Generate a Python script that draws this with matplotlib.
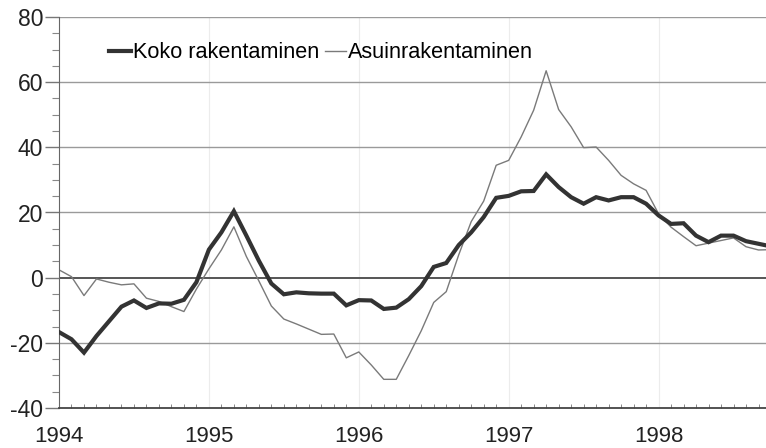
"""Koko rakentaminen vs. asuinrakentaminen, monthly change (%), 1994-1998."""

import matplotlib
matplotlib.use("Agg")
import matplotlib.pyplot as plt
from matplotlib.ticker import FixedLocator, MultipleLocator

plt.rcParams["font.family"] = ["Liberation Sans Narrow", "Liberation Sans", "DejaVu Sans"]
plt.rcParams["axes.unicode_minus"] = False

# monthly values, Jan 1994 onwards
koko = [
    -16.7, -18.9, -23.0, -17.9, -13.4, -8.9, -7.0, -9.3, -7.9, -8.0, -6.8, -1.4,
    8.6, 13.9, 20.4, 12.9, 5.2, -1.8, -5.1, -4.5, -4.8, -4.9, -4.9, -8.5,
    -6.9, -7.0, -9.6, -9.2, -6.6, -2.6, 3.3, 4.5, 10.0, 13.9, 18.6, 24.5,
    25.1, 26.5, 26.6, 31.7, 27.8, 24.7, 22.7, 24.7, 23.7, 24.7, 24.7, 22.7,
    19.1, 16.5, 16.7, 12.9, 10.9, 12.9, 12.9, 11.2, 10.4, 9.6,
]
asuin = [
    2.4, 0.3, -5.5, -0.4, -1.4, -2.2, -1.9, -6.3, -7.3, -8.9, -10.4, -3.5,
    2.7, 8.5, 15.6, 6.5, -1.0, -8.7, -12.7, -14.2, -15.8, -17.4, -17.3, -24.6,
    -22.8, -26.8, -31.2, -31.2, -23.9, -16.3, -7.6, -4.3, 7.0, 17.2, 23.5, 34.5,
    36.0, 43.2, 51.4, 63.5, 51.6, 46.3, 39.9, 40.1, 36.0, 31.4, 28.8, 26.8,
    19.6, 15.5, 12.6, 9.8, 10.6, 11.4, 12.2, 9.5, 8.5, 8.6,
]
years = ["1994", "1995", "1996", "1997", "1998"]
labels = ["Koko rakentaminen", "Asuinrakentaminen"]

months = list(range(len(koko)))

fig = plt.figure(figsize=(7.66, 4.48), dpi=100)
ax = fig.add_axes([59 / 766, 1 - 408 / 448, 1 - 59 / 766, (408 - 17) / 448])

# grid
for v in (-20, 20, 40, 60, 80):
    ax.axhline(v, color="#9a9a9a", lw=1.0, zorder=1)
ax.axhline(0, color="#555555", lw=1.4, zorder=1)
for m in (12, 24, 36, 48):
    ax.axvline(m, color="#ececec", lw=0.8, zorder=0)

ax.plot(months, koko, color="#333333", lw=3.0, label=labels[0], zorder=3,
        solid_joinstyle="miter")
ax.plot(months, asuin, color="#7a7a7a", lw=1.0, label=labels[1], zorder=2)

ax.set_xlim(0, 56.6)
ax.set_ylim(-40, 80)

ax.yaxis.set_major_locator(MultipleLocator(20))
ax.yaxis.set_minor_locator(MultipleLocator(5))
ax.xaxis.set_major_locator(FixedLocator([0, 12, 24, 36, 48]))
ax.xaxis.set_minor_locator(MultipleLocator(1))
ax.set_xticklabels(years)

ax.tick_params(axis="y", which="major", length=10, width=1.0, color="#777777",
               pad=1.5, labelsize=16.5, labelcolor="#222222")
ax.tick_params(axis="y", which="minor", length=5, width=0.8, color="#888888")
ax.tick_params(axis="x", which="major", length=0, pad=13, labelsize=16,
               labelcolor="#222222")
ax.tick_params(axis="x", which="minor", direction="in", length=3, width=0.7,
               color="#888888")

for side in ("top", "right"):
    ax.spines[side].set_visible(False)
ax.spines["left"].set_color("#666666")
ax.spines["bottom"].set_color("#444444")
ax.spines["bottom"].set_linewidth(1.3)

ax.legend(loc="center left", bbox_to_anchor=(50 / 707, 0.908), ncol=2,
          frameon=False, fontsize=15.6, handlelength=1.0, handletextpad=0.1,
          columnspacing=0.25, borderpad=0, borderaxespad=0)

fig.savefig("out.png", dpi=100)
